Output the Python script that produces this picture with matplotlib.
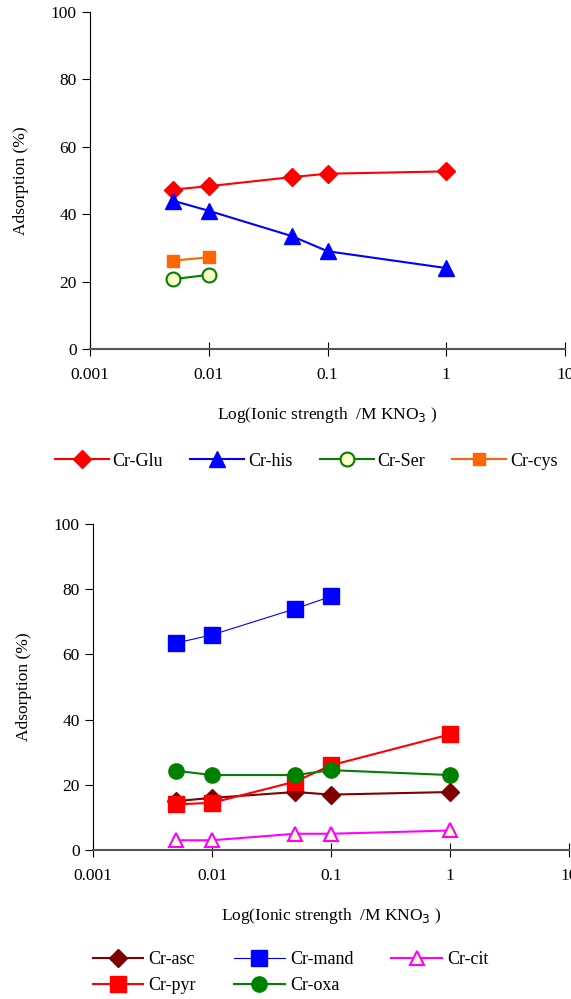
import matplotlib
matplotlib.use("Agg")
import matplotlib.pyplot as plt

plt.rcParams["font.family"] = ["Liberation Serif", "DejaVu Serif"]

# ionic strength (M KNO3)
x_all = [0.005, 0.01, 0.05, 0.1, 1]
x_two = [0.005, 0.01]
x_four = [0.005, 0.01, 0.05, 0.1]

# top panel
glu = [47.3, 48.3, 51.0, 52.0, 52.7]
his = [44.0, 41.0, 33.5, 29.0, 24.0]
ser = [20.7, 22.0]
cys = [26.2, 27.2]

# bottom panel
asc = [15.0, 16.0, 17.8, 17.0, 17.8]
mand = [63.5, 66.0, 74.0, 77.8]
cit = [3.0, 3.0, 5.0, 5.0, 6.0]
pyr = [14.0, 14.5, 21.0, 26.0, 35.5]
oxa = [24.3, 23.0, 23.0, 24.5, 23.0]

xticks = [0.001, 0.01, 0.1, 1, 10]
xticklabels = ["0.001", "0.01", "0.1", "1", "10"]
yticks = [0, 20, 40, 60, 80, 100]

fig = plt.figure(figsize=(5.71, 9.99), dpi=100)
ax1 = fig.add_axes([0.1576, 0.6507, 0.832, 0.3373])
ax2 = fig.add_axes([0.1629, 0.1491, 0.834, 0.3264])


def style(ax):
    ax.set_xscale("log")
    ax.set_xlim(0.001, 10)
    ax.set_ylim(0, 100)
    ax.set_xticks(xticks)
    ax.set_xticklabels(xticklabels)
    ax.minorticks_off()
    ax.set_yticks(yticks)
    for s in ("top", "right"):
        ax.spines[s].set_visible(False)
    ax.spines["left"].set_color("black")
    ax.spines["bottom"].set_color("#555555")
    ax.spines["bottom"].set_linewidth(1.5)
    ax.tick_params(axis="x", direction="inout", length=10, labelsize=12.5, pad=8)
    ax.tick_params(axis="y", direction="out", length=6, labelsize=12.5)
    ax.set_xlabel(r"Log(Ionic strength  /M KNO$_3$ )", fontsize=12.5, labelpad=16)
    ax.set_ylabel("Adsorption (%)", fontsize=12.5, labelpad=16)


style(ax1)
h_glu, = ax1.plot(x_all, glu, color="red", lw=1.5, marker="D", ms=9, label="Cr-Glu")
h_his, = ax1.plot(x_all, his, color="blue", lw=1.5, marker="^", ms=11, label="Cr-his")
h_ser, = ax1.plot(x_two, ser, color="green", lw=1.5, marker="o", ms=10,
                  mfc="#FFFFCC", mec="green", mew=1.5, label="Cr-Ser")
h_cys, = ax1.plot(x_two, cys, color="#FF6600", lw=1.5, marker="s", ms=8, label="Cr-cys")
ax1.legend(handles=[h_glu, h_his, h_ser, h_cys], ncol=4, loc="upper center",
           bbox_to_anchor=(0.455, -0.26), frameon=False, fontsize=13,
           handlelength=3.0, columnspacing=1.5, handletextpad=0.2)

style(ax2)
h_asc, = ax2.plot(x_all, asc, color="#800000", lw=1.5, marker="D", ms=9, label="Cr-asc")
h_mand, = ax2.plot(x_four, mand, color="blue", lw=0.8, marker="s", ms=11, label="Cr-mand")
h_cit, = ax2.plot(x_all, cit, color="magenta", lw=1.5, marker="^", ms=10,
                  mfc="#FFFFCC", mec="magenta", mew=1.5, label="Cr-cit")
h_pyr, = ax2.plot(x_all, pyr, color="red", lw=1.5, marker="s", ms=11, label="Cr-pyr")
h_oxa, = ax2.plot(x_all, oxa, color="green", lw=1.5, marker="o", ms=11, label="Cr-oxa")
ax2.legend(handles=[h_asc, h_pyr, h_mand, h_oxa, h_cit], ncol=3, loc="upper center",
           bbox_to_anchor=(0.415, -0.26), frameon=False, fontsize=13,
           handlelength=2.8, columnspacing=2.1, handletextpad=0.3, labelspacing=0.5)

fig.savefig("out.png", dpi=100)
